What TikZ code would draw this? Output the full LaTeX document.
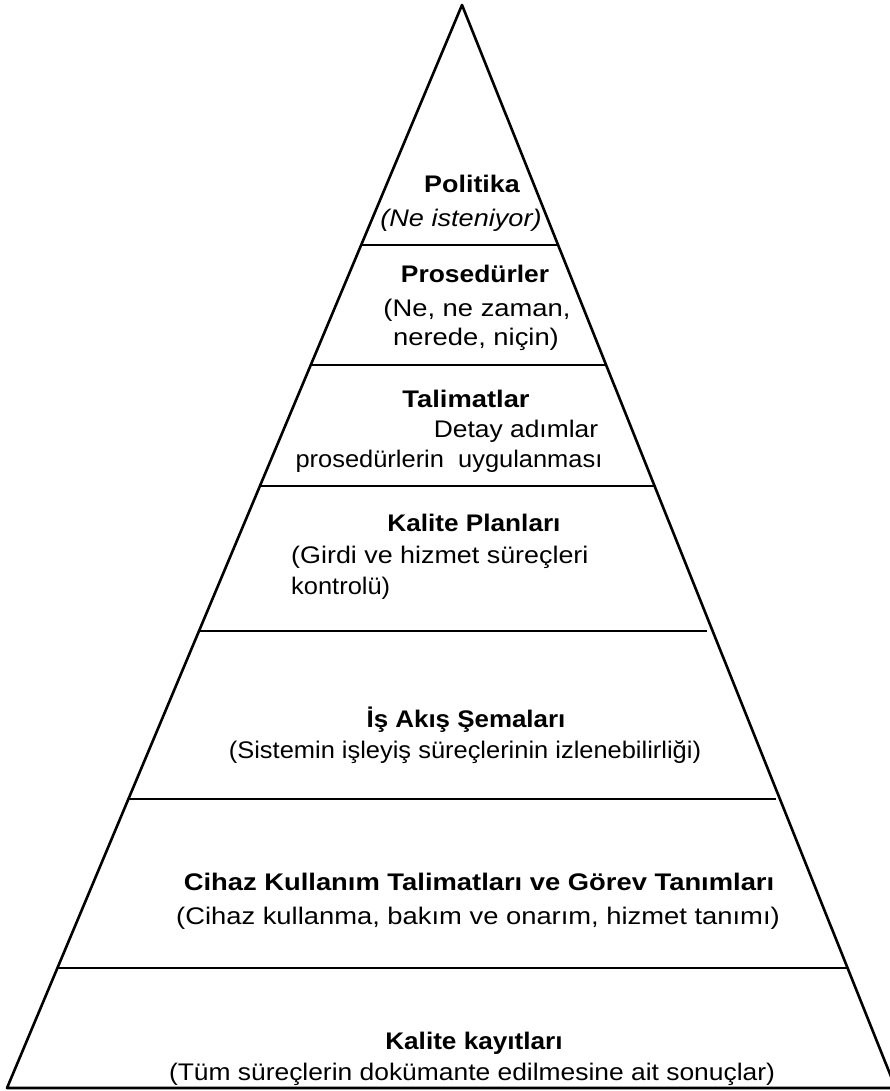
\documentclass[tikz,border=0pt]{standalone}
\usepackage{fontspec}
\setmainfont{Liberation Sans}
\usetikzlibrary{calc}
\begin{document}
\begin{tikzpicture}[x=1pt,y=-1pt,
  edge/.style={line width=2.6pt,line cap=round,line join=round},
  sep/.style={line width=1.6pt},
  ttl/.style={font=\fontsize{24}{28}\selectfont\bfseries,inner sep=0pt,anchor=base},
  sub/.style={font=\fontsize{24}{28}\selectfont,inner sep=0pt,anchor=base}]
\useasboundingbox (0,0) rectangle (889,1091);
\coordinate (A) at (462,5);
\coordinate (BL) at (7,1088);
\coordinate (BR) at (895.6,1088);
\draw[edge] (BL) -- (A) -- (BR) -- cycle;
\foreach \y/\n/\s in {245/l1/0,365/l2/0,486/l3/0,631/l4/6,799/l5/4,968/l6/0}{
  \coordinate (\n L) at ($(A)!{(\y-5)/1083}!(BL)$);
  \coordinate (\n R) at ($(A)!{(\y-5)/1083}!(BR)$);
  \draw[sep,shorten >=\s pt] (\n L) -- (\n R);
}
% texts
\node[ttl,xscale=1.12] (t1) at (472,193) {Politika};
\node[sub,xscale=1.13] (s1) at (461,226) {\itshape (Ne isteniyor)};
\node[ttl,xscale=1.1] (t2) at (475,282) {Prosedürler};
\node[sub,xscale=1.14] (s2a) at (477,316) {(Ne, ne zaman,};
\node[sub,xscale=1.14] (s2b) at (476,345) {nerede, niçin)};
\node[ttl,xscale=1.14] (t3) at (466,407) {Talimatlar};
\node[sub,xscale=1.1] (s3a) at (516,437) {Detay adımlar};
\node[sub,xscale=1.06] (s3b) at (449,467) {prosedürlerin\ \ uygulanması};
\node[ttl,xscale=1.09] (t4) at (474,531) {Kalite Planları};
\node[sub,xscale=1.12,anchor=base west] (s4a) at (291,563) {(Girdi ve hizmet süreçleri};
\node[sub,xscale=1.06,anchor=base west] (s4b) at (291,594) {kontrolü)};
\node[ttl,xscale=1.08] (t5) at (466,727) {İş Akış Şemaları};
\node[sub,xscale=1.06] (s5) at (465,758) {(Sistemin işleyiş süreçlerinin izlenebilirliği)};
\node[ttl,xscale=1.14] (t6) at (479,890) {Cihaz Kullanım Talimatları ve Görev Tanımları};
\node[sub,xscale=1.14] (s6) at (478,924) {(Cihaz kullanma, bakım ve onarım, hizmet tanımı)};
\node[ttl,xscale=1.09] (t7) at (474,1049) {Kalite kayıtları};
\node[sub,xscale=1.1] (s7) at (472,1080) {(Tüm süreçlerin dokümante edilmesine ait sonuçlar)};
\end{tikzpicture}
\end{document}
